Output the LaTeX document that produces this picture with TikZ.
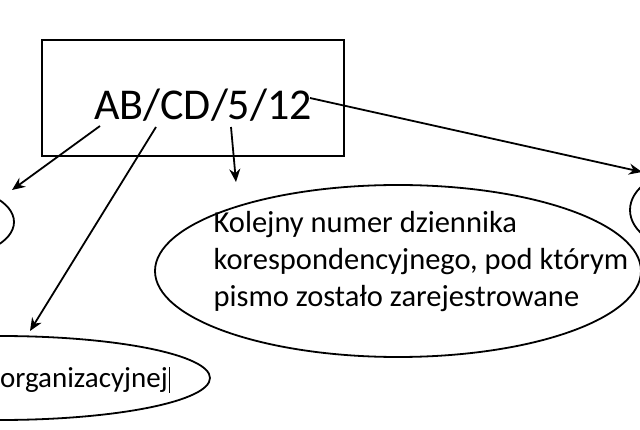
\documentclass[tikz,border=0pt]{standalone}
\usepackage{fontspec}
\setmainfont{Carlito}
\usetikzlibrary{shapes.geometric,arrows.meta}
\begin{document}
\begin{tikzpicture}[x=1pt,y=-1pt,line width=1.8pt,
  oval/.style={draw,ellipse},
  arr/.style={-{Stealth[length=13pt,width=11pt]}}]
\useasboundingbox (0,0) rectangle (640,430);
\clip (0,0) rectangle (640,430);
\node[draw,minimum width=302pt,minimum height=116pt] (box) at (193,98) {};
\node[font=\fontsize{44}{44}\selectfont,anchor=base] (code) at (203,120) {AB/CD/5/12};
\node[oval,minimum width=140pt,minimum height=72pt] (e1) at (-56,222) {};
\node[oval,minimum width=486pt,minimum height=172pt] (e2) at (398,271) {};
\node[align=left,font=\fontsize{30.5}{37}\selectfont] (t2) at (421,262) {Kolejny numer dziennika\\korespondencyjnego, pod którym\\pismo zostało zarejestrowane};
\node[oval,minimum width=420pt,minimum height=84pt] (e3) at (0,378) {};
\node[font=\fontsize{29}{30}\selectfont,anchor=east] (t3) at (172,380) {organizacyjnej};
\draw[line width=1pt] (t3.east)++(-3,-13) -- ++(0,26);
\node[oval,minimum width=120pt,minimum height=80pt] (e4) at (690,210) {};
\coordinate (s1) at (100,126);
\coordinate (s2) at (156,127);
\coordinate (s3) at (231,127);
\coordinate (s4) at (310,98);
\draw[arr] (s1) -- (12,190);
\draw[arr] (s2) -- (30,331);
\draw[arr] (s3) -- (236,182);
\draw[arr] (s4) -- (642,172);
\end{tikzpicture}
\end{document}
